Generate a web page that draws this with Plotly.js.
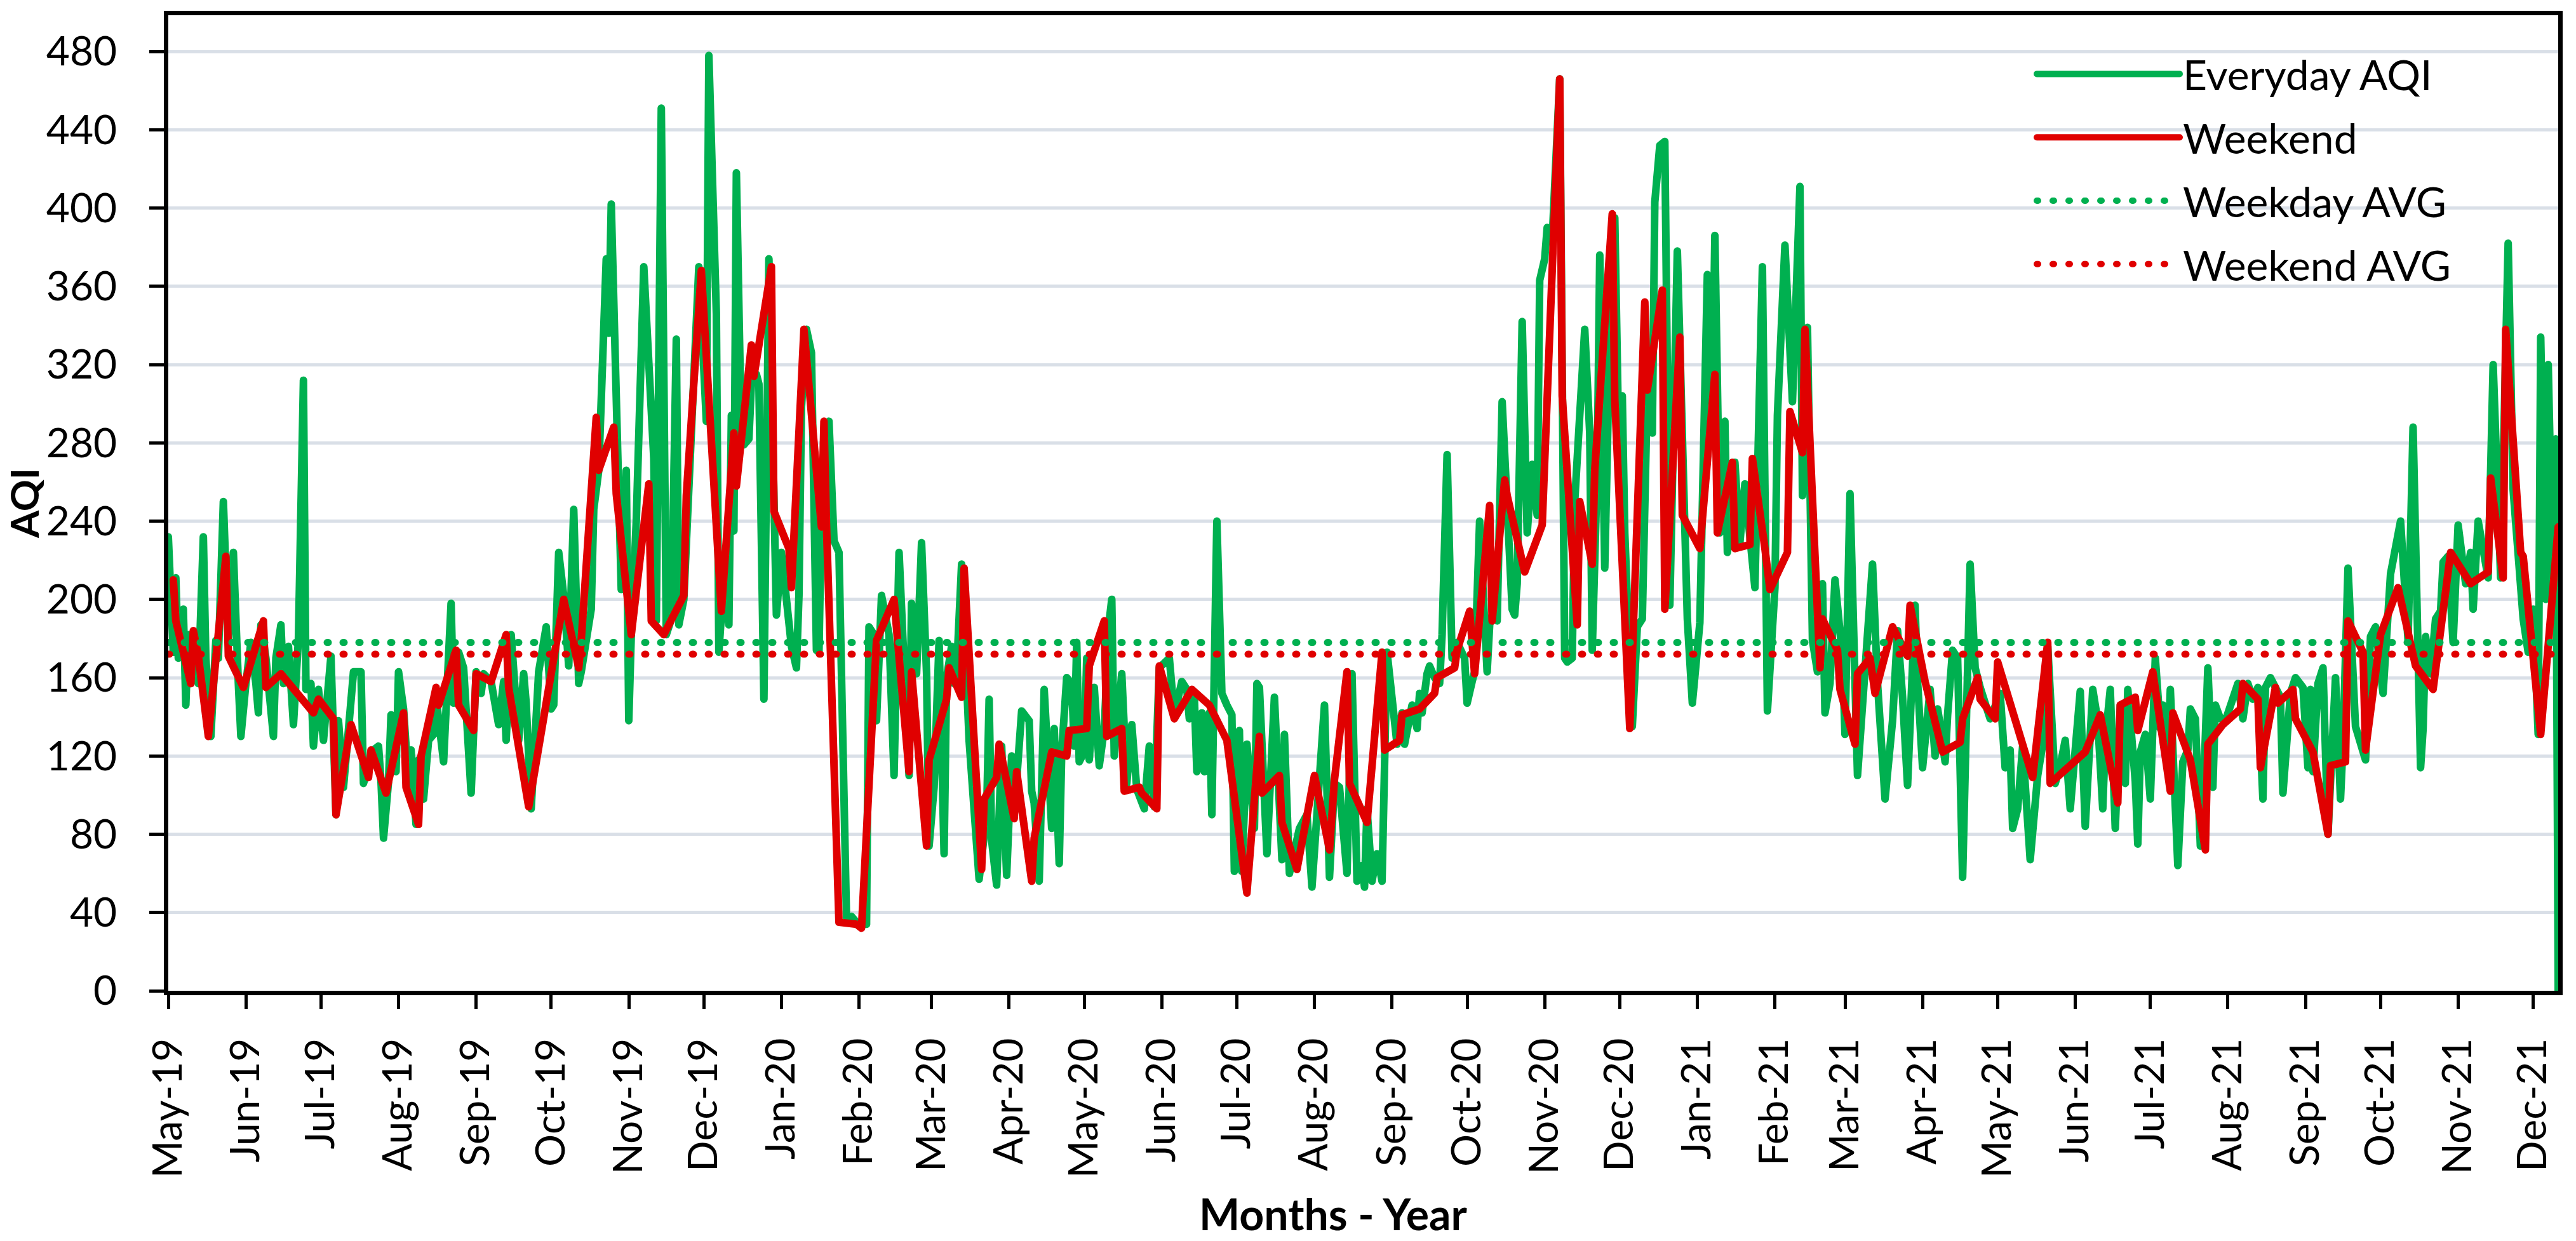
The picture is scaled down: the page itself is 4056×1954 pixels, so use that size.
<!DOCTYPE html>
<html>
<head>
<meta charset="utf-8">
<script src="https://cdn.plot.ly/plotly-3.0.1.min.js"></script>
<style>
html,body{margin:0;padding:0;background:#fff;}
#chart{width:4056px;height:1954px;}
.js-line{stroke-linejoin:round;stroke-linecap:round;}
</style>
</head>
<body>
<div id="chart"></div>
<script>
// Day offsets are counted from the first day of the series, 1 May 2019.
const seriesStart = '2019-05-01';

// Everyday AQI (green): day offset and AQI value
const everydayDay = [
  0,2,3,4,6,7,8,9,10,12, 14,15,17,19,20,22,24,26,28,29, 31,33,35,36,37,39,42,43,45,46,
  48,50,52,54,55,57,58,60,62,65, 67,68,70,74,77,78,82,84,85,86, 88,89,91,92,94,96,97,99,100,102,
  104,106,107,109,110,113,114,116,118,121, 123,125,126,129,132,134,135,137,140,142,
  143,145,146,148,151,153,154,156,158,160, 162,
  164,165,167,169,170,172,175,176,177,179, 181,183,184,185,187,190,192,194,195,196,
  197,199,201,203,204,206,208,210,212,215, 216,219,220,222,224,225,226,227,229,230,
  232,233,235,236,238,240,243,245,247,249, 251,252,253,255,257,259,260,261,264,266,
  268,270,271,273,275,279,280,282,283,285, 288,290,292,296,297,299,301,303,304,306,
  308,310,311,313,
  314,315,317,320,322,324,327,328,329,331, 333,335,336,337,338,341,344,345,346,348,
  350,353,354,356,357,359,361,362,363,364, 366,367,368,370,372,374,376,377,378,381,
  383,385,387,390,392,394,396,398,400,402, 405,407,408,410,411,413,414,416,417,419,
  421,423,425,426,428,429,431,434,435,436, 439,442,445,446,448,452,455,457,459,462,
  464,466,
  468,471,473,475,477,478,479,481,483,485, 487,489,491,493,494,497,499,500,501,503,
  504,506,508,509,511,513,515,518,519,521, 522,524,527,528,529,531,532,533,535,537,
  538,539,541,543,545,547,548,550,551,553, 556,558,559,561,562,566,568,569,571,572,
  574,576,578,580,581,582,585,587,589,590, 591,593,594,596,598,600,603,607,609,612,
  615,617,618,
  620,622,623,626,628,630,632,634,637,639, 642,643,646,649,652,653,655,657,659,661,
  662,664,666,669,670,672,675,678,679,681, 683,686,689,691,693,695,698,699,701,704,
  706,707,708,710,711,713,715,717,720,722, 724,728,732,734,736,737,739,741,744,747,
  749,751,754,756,758,760,764,766,769,
  771,773,774,776,778,780,782,783,786,787, 788,790,792,794,796,797,799,800,801,803,
  805,807,808,810,812,813,815,817,818,820, 822,824,825,827,829,831,833,835,837,838,
  840,842,844,845,848,850,853,855,856,857, 859,861,863,866,868,869,871,874,878,880,
  882,885,888,892,895,897,900,901,902,904, 906,908,909,911,913,915,918,920,921,923,
  927,929,932,935,937,939,941,943,945,947, 948,950,951,953,954,955
];
const everydayAQI = [
  232,173,211,170,195,146,182,157,180,157, 232,170,130,179,170,250,178,224,157,130, 157,178,157,142,187,170,130,170,187,157,
  176,136,180,312,154,157,125,154,128,171, 90,138,104,163,163,106,123,125,107,78, 107,141,112,163,144,106,123,85,118,98,
  128,131,150,128,117,198,147,173,165,101, 163,152,162,158,136,158,128,182,128,162,
  147,93,118,163,186,144,146,224,202,166, 246,
  157,163,182,195,246,266,374,336,402,298, 205,266,138,182,240,370,310,272,189,301,
  451,182,190,333,187,200,259,323,370,291, 478,346,173,211,187,294,235,418,282,279,
  282,310,315,310,149,374,192,224,202,176, 165,202,298,338,326,174,173,246,291,230,
  224,99,37,38,35,34,186,182,138,202, 182,110,224,110,198,162,229,162,74,104,
  179,70,160,176,
  157,163,218,128,90,57,90,149,77,54, 125,59,90,120,90,143,138,102,96,56,
  154,83,134,65,122,160,157,125,178,117, 122,170,118,155,115,134,189,200,120,162,
  106,136,103,93,125,94,165,168,170,141, 158,154,139,150,112,142,112,142,90,240,
  152,146,141,61,133,61,126,83,157,155, 70,150,67,131,60,83,90,53,90,146,
  58,106,
  104,60,162,56,64,53,93,56,70,56, 173,146,126,142,126,146,134,152,142,162,
  166,160,157,182,274,170,178,170,147,158, 163,240,163,187,192,189,250,301,248,195,
  192,208,342,234,269,243,363,374,390,384, 466,170,168,170,250,338,285,174,266,376,
  216,333,395,251,304,234,135,186,190,277, 306,285,403,432,434,197,378,190,147,188,
  366,298,386,
  234,291,224,270,229,259,232,206,370,143, 206,294,381,301,411,253,339,179,163,208,
  142,157,210,170,131,254,110,165,194,218, 157,98,138,184,150,105,197,158,114,154,
  120,144,136,117,141,174,170,58,218,165, 155,139,152,114,123,83,93,125,67,110,
  126,176,106,115,128,93,153,84,154,
  138,93,128,154,83,146,106,154,107,75, 122,131,98,170,134,146,118,154,114,64,
  117,123,144,139,74,94,165,104,146,139, 138,146,152,157,139,157,149,155,98,155,
  160,155,150,101,152,160,155,114,154,112, 157,165,80,160,98,126,216,135,118,181,
  186,152,213,240,179,288,114,134,181,162, 190,194,219,222,178,238,208,224,195,240,
  211,320,211,382,256,223,190,173,195,131, 334,200,320,202,282,0
];

// Weekend AQI (red): day offset and AQI value
const weekendDay = [
  2,3,9,10,12,16,23,24,30,38, 39,45,58,60,66,67,73,80,81,87, 94,95,100,101,107,108,115,116,122,123,
  129,135,136,144,158,164,165,171,172,178, 179,185,192,193,198,206,207,213,221,226,
  227,233,234,241,242,248,249,254,261,262, 263,268,275,277,283,290,296,297,303,304,
  311,312,317,318,325,326,331,332,338,339, 345,346,353,359,360,367,368,374,375,381,
  382,388,389,395,396,402,409,416,423,431, 436,437,444,445,451,458,464,466,471,472,
  479,485,486,492,493,500,506,507,514,515, 520,522,528,529,534,535,542,549,556,557,
  563,564,569,570,577,578,584,590,591,597, 598,604,605,612,618,619,625,626,632,633,
  638,640,647,648,653,654,660,661,667,668, 674,675,680,682,689,695,696,702,709,716,
  717,723,724,730,731,745,751,752,759,766, 772,779,780,786,787,793,800,801,808,814,
  815,821,828,829,835,836,842,843,849,850, 857,863,864,870,871,877,878,884,891,898,
  905,912,920,927,928,933,934,940,941,948, 955
];
const weekendAQI = [
  210,189,157,184,171,130,222,171,155,189, 155,162,142,149,139,90,136,109,123,101, 142,104,85,120,155,146,174,146,133,162,
  158,182,155,94,200,165,179,293,266,288, 254,182,259,189,182,202,253,368,194,285,
  258,330,314,370,245,226,206,338,237,291, 238,35,34,32,179,200,112,163,74,118,
  149,165,150,216,62,98,109,126,88,112, 56,78,122,120,133,134,166,189,130,134,
  102,104,101,93,166,139,154,146,128,50, 130,101,110,86,62,110,72,108,163,106,
  86,173,123,128,141,144,152,160,165,174, 194,162,248,189,261,253,214,238,466,304,
  187,250,218,266,397,302,134,352,307,358, 195,334,243,226,315,234,270,226,228,272,
  226,205,224,296,275,338,165,190,174,154, 126,162,170,152,186,171,197,158,122,127,
  139,160,149,139,168,109,178,106,114,122, 141,96,146,150,133,163,102,142,118,72,
  126,136,144,157,149,114,155,147,154,139, 122,80,115,117,189,173,123,182,206,166,
  154,224,208,214,262,211,338,224,222,131, 237
];

// Period averages
const weekdayAvg = 178;
const weekendAvg = 172;
const lastDay = 955;

const seriesNames = ['Everyday AQI', 'Weekend', 'Weekday AVG', 'Weekend AVG'];
const axisTitles = { x: 'Months - Year', y: 'AQI' };
const GREEN = '#00b050';
const RED = '#e00000';

const base = Date.UTC(2019, 4, 1);
function dayToDate(d) {
  return new Date(base + d * 86400000).toISOString().slice(0, 10);
}

const traces = [
  {
    x: everydayDay.map(dayToDate), y: everydayAQI,
    type: 'scatter', mode: 'lines', name: seriesNames[0], legendgroup: 'a',
    line: { color: GREEN, width: 12 }
  },
  {
    x: weekendDay.map(dayToDate), y: weekendAQI,
    type: 'scatter', mode: 'lines', name: seriesNames[1], legendgroup: 'b',
    line: { color: RED, width: 12 }
  },
  {
    x: [dayToDate(0), dayToDate(lastDay)], y: [weekdayAvg, weekdayAvg],
    type: 'scatter', mode: 'lines', name: seriesNames[2], legendgroup: 'c',
    line: { color: GREEN, width: 11, dash: '2px,23px' }
  },
  {
    x: [dayToDate(0), dayToDate(lastDay)], y: [weekendAvg, weekendAvg],
    type: 'scatter', mode: 'lines', name: seriesNames[3], legendgroup: 'd',
    line: { color: RED, width: 11, dash: '2px,23px' }
  }
];

const layout = {
  width: 4056, height: 1954,
  margin: { l: 265, r: 28, t: 24, b: 394 },
  paper_bgcolor: '#ffffff', plot_bgcolor: '#ffffff',
  font: { family: 'Lato, "Open Sans", sans-serif', color: '#000000', size: 64 },
  showlegend: true,
  legend: {
    x: 0.7805, xanchor: 'left', y: 0.972, yanchor: 'top',
    bgcolor: 'rgba(0,0,0,0)', borderwidth: 0,
    font: { size: 66, color: '#000000' },
    itemwidth: 225, tracegroupgap: 11
  },
  // white backing of the legend area (hides the gridlines there, as in the original)
  shapes: [{
    type: 'rect', layer: 'below', xref: 'paper', yref: 'paper',
    x0: 0.7754, x1: 0.9710, y0: 0.69, y1: 1,
    fillcolor: '#ffffff', line: { width: 0 }
  }],
  annotations: [{
    text: axisTitles.x, xref: 'paper', yref: 'paper',
    x: 0.4876, y: -0.2285, xanchor: 'center', yanchor: 'middle',
    showarrow: false, font: { size: 68, weight: 'bold', color: '#000000' }
  }],
  xaxis: {
    type: 'date',
    range: [dayToDate(0), dayToDate(lastDay)],
    tick0: seriesStart, dtick: 'M1', tickformat: '%b-%y', tickangle: -90,
    ticks: 'outside', ticklen: 22, tickwidth: 5, tickcolor: '#000000',
    ticklabelstandoff: 20,
    tickfont: { size: 64 },
    showline: true, linewidth: 7, linecolor: '#000000', mirror: true,
    showgrid: false, zeroline: false
  },
  yaxis: {
    range: [0, 498.5], tick0: 0, dtick: 40,
    ticks: 'outside', ticklen: 23, tickwidth: 5, tickcolor: '#000000',
    ticklabelstandoff: 38,
    tickfont: { size: 64 },
    showline: true, linewidth: 7, linecolor: '#000000', mirror: true,
    showgrid: true, gridcolor: '#d9dfe7', gridwidth: 5, zeroline: false,
    title: { text: axisTitles.y, font: { size: 62, weight: 'bold' }, standoff: 14 }
  }
};

Plotly.newPlot('chart', traces, layout, { staticPlot: true, displayModeBar: false });
</script>
</body>
</html>
